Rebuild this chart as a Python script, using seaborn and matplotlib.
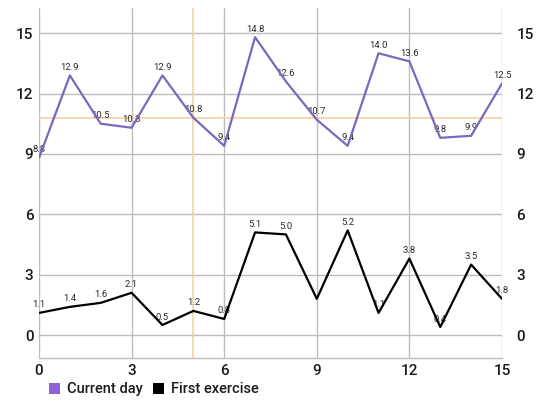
import matplotlib
matplotlib.use("Agg")
import matplotlib.pyplot as plt
from matplotlib.patches import Patch
import seaborn as sns
import pandas as pd

# ---- data ----
days = list(range(16))
current_day = [8.8, 12.9, 10.5, 10.3, 12.9, 10.8, 9.4, 14.8, 12.6, 10.7, 9.4, 14.0, 13.6, 9.8, 9.9, 12.5]
first_exercise = [1.1, 1.4, 1.6, 2.1, 0.5, 1.2, 0.8, 5.1, 5.0, 1.8, 5.2, 1.1, 3.8, 0.4, 3.5, 1.8]
series_names = ["Current day", "First exercise"]
y_ticks = [0, 3, 6, 9, 12, 15]
x_ticks = [0, 3, 6, 9, 12, 15]
highlight_x = 5
highlight_y = 10.8
hidden_labels_first = [9]

sns.set_theme(style="white")
plt.rcParams['font.family'] = ['Roboto', 'DejaVu Sans']

line_colors = ["#7B68BE", "#000000"]
legend_colors = ["#8E63D6", "#000000"]

df = pd.DataFrame({
    "x": days * 2,
    "y": current_day + first_exercise,
    "series": [series_names[0]] * len(days) + [series_names[1]] * len(days),
})

fig = plt.figure(figsize=(5.36, 4.03), dpi=100)
ax = fig.add_axes([39 / 536, 45 / 403, (502 - 39) / 536, (358 - 8) / 403])

sns.lineplot(data=df, x="x", y="y", hue="series", palette=line_colors,
             linewidth=1.6, ax=ax, legend=False, zorder=3)

ax.set_xlim(0, 15)
ax.set_ylim(-1.14, 16.25)
ax.set_xticks(x_ticks)
ax.set_yticks(y_ticks)
ax.set_xlabel("")
ax.set_ylabel("")
ax.grid(True, color="#BDBDBD", linewidth=1.0, zorder=0)

for s in ["top", "right", "left"]:
    ax.spines[s].set_visible(False)
ax.spines["bottom"].set_color("#BDBDBD")
ax.spines["bottom"].set_linewidth(1.0)

ax.tick_params(axis="both", length=0, labelsize=11, labelcolor="#1a1a1a")
ax.tick_params(axis="y", labelright=True, pad=4)
ax.tick_params(axis="x", pad=4)
for t in ax.yaxis.get_major_ticks():
    t.label2.set_horizontalalignment("left")
    t.label2.set_x(1.0 + 9 / 463)
for lab in ax.get_xticklabels() + ax.get_yticklabels() + ax.yaxis.get_ticklabels(which="major"):
    lab.set_fontweight("medium")
for t in ax.yaxis.get_major_ticks():
    t.label2.set_fontweight("medium")

# highlight crosshair
ax.axvline(highlight_x, color="#F6CFA6", linewidth=1.2, zorder=1)
ax.axhline(highlight_y, color="#F6CFA6", linewidth=1.2, zorder=1)

# value labels
for i, v in enumerate(current_day):
    ax.annotate(f"{v:.1f}", (days[i], v), xytext=(0, 2.5), textcoords="offset points",
                ha="center", va="bottom", fontsize=6.8, color="#2a2a2a", zorder=2)
for i, v in enumerate(first_exercise):
    if i in hidden_labels_first:
        continue
    ax.annotate(f"{v:.1f}", (days[i], v), xytext=(0, 2.5), textcoords="offset points",
                ha="center", va="bottom", fontsize=6.8, color="#2a2a2a", zorder=2)

handles = [Patch(facecolor=legend_colors[k], edgecolor="none", label=series_names[k]) for k in range(2)]
leg = fig.legend(handles=handles, loc="lower left", bbox_to_anchor=(40 / 536, -0.005), ncol=2,
                 frameon=False, fontsize=10.5, handlelength=0.75, handleheight=0.75,
                 handletextpad=0.5, columnspacing=0.7, borderaxespad=0.2)
for txt in leg.get_texts():
    txt.set_color("#1a1a1a")
    txt.set_fontweight("medium")

fig.savefig("out.png", dpi=100)
